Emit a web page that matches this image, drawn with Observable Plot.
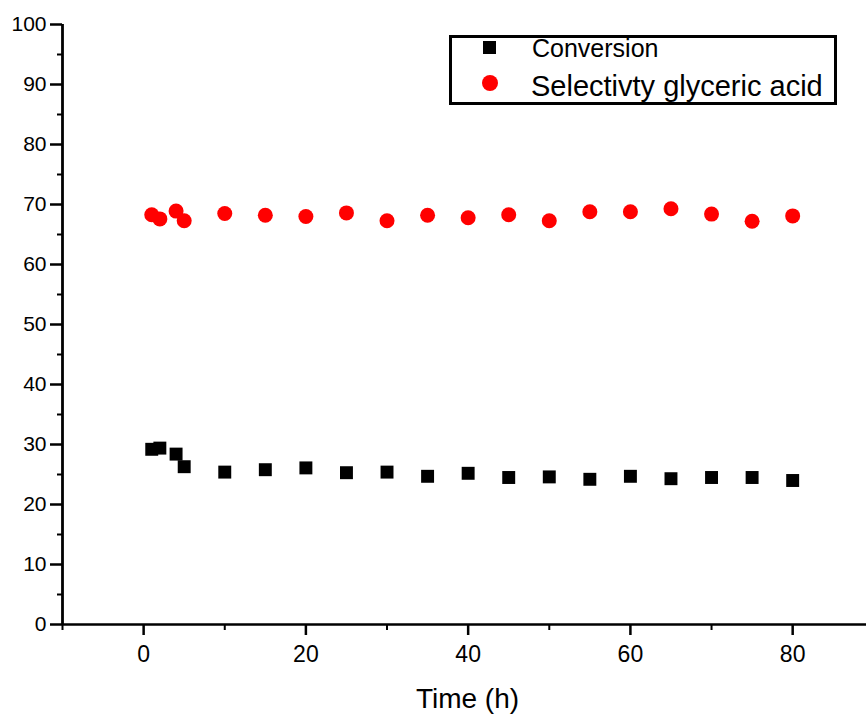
<!DOCTYPE html>
<html>
<head>
<meta charset="utf-8">
<script src="https://cdn.jsdelivr.net/npm/d3@7"></script>
<script src="https://cdn.jsdelivr.net/npm/@observablehq/plot@0.6"></script>
<style>
  html, body { margin: 0; padding: 0; background: #fff; }
  #wrap { position: relative; width: 866px; height: 717px; font-family: "Liberation Sans", Arial, sans-serif; }
  #legendBox { position: absolute; left: 449px; top: 35px; width: 388px; height: 70px; border: 3px solid #000; box-sizing: border-box; background: #fff; }
  .lg { position: absolute; white-space: nowrap; line-height: 1; color: #000; }
</style>
</head>
<body>
<div id="wrap"></div>
<script>
// ---- data ----
const times = [1, 2, 4, 5, 10, 15, 20, 25, 30, 35, 40, 45, 50, 55, 60, 65, 70, 75, 80];
const conversion = [29.2, 29.4, 28.4, 26.3, 25.4, 25.8, 26.1, 25.3, 25.4, 24.7, 25.2, 24.5, 24.6, 24.2, 24.7, 24.3, 24.5, 24.5, 24.0];
const selectivity = [68.3, 67.6, 68.9, 67.3, 68.5, 68.2, 68.0, 68.6, 67.3, 68.2, 67.8, 68.3, 67.3, 68.8, 68.8, 69.3, 68.4, 67.2, 68.1];
const seriesNames = ["Conversion", "Selectivty glyceric acid"];
const xMajorTicks = [0, 20, 40, 60, 80];
const xMinorTicks = [-10, 10, 30, 50, 70];
const yMajorTicks = [0, 10, 20, 30, 40, 50, 60, 70, 80, 90, 100];
const yMinorTicks = [5, 15, 25, 35, 45, 55, 65, 75, 85, 95];
const xLabel = "Time (h)";

const convData = times.map((t, i) => ({t, v: conversion[i]}));
const selData = times.map((t, i) => ({t, v: selectivity[i]}));

const chart = Plot.plot({
  width: 866,
  height: 717,
  marginTop: 24,
  marginBottom: 93,
  marginLeft: 62,
  marginRight: 0,
  style: {fontFamily: "'Liberation Sans', Arial, sans-serif", color: "#000", background: "#fff", overflow: "visible"},
  x: {domain: [-10, 89.1], label: null},
  y: {domain: [0, 100], label: null},
  marks: [
    Plot.axisY(yMinorTicks, {tickSize: 5, text: null, stroke: "#000", strokeWidth: 2, label: null}),
    Plot.axisY(yMajorTicks, {tickSize: 12, tickPadding: 4, fontSize: 21, stroke: "#000", strokeWidth: 2.5, label: null}),
    Plot.axisX(xMinorTicks, {tickSize: 6, text: null, stroke: "#000", strokeWidth: 2, label: null}),
    Plot.axisX(xMajorTicks, {tickSize: 11, tickPadding: 10, fontSize: 23, stroke: "#000", strokeWidth: 2.5, label: null}),
    Plot.ruleX([-10], {stroke: "#000", strokeWidth: 2.8}),
    Plot.ruleY([0], {stroke: "#000", strokeWidth: 2.5}),
    Plot.dot(convData, {x: "t", y: "v", symbol: "square", r: 7.3, fill: "#000", stroke: "none"}),
    Plot.dot(selData, {x: "t", y: "v", symbol: "circle", r: 7.5, fill: "#f00", stroke: "none"}),
    Plot.text([xLabel], {frameAnchor: "bottom", dy: 75, dx: 3, lineAnchor: "middle", fontSize: 28, fill: "#000"})
  ]
});

const wrap = document.getElementById("wrap");
wrap.appendChild(chart);

// legend (HTML overlay)
const box = document.createElement("div");
box.id = "legendBox";
wrap.appendChild(box);

const sq = document.createElement("div");
sq.style.cssText = "position:absolute;left:483px;top:41px;width:13px;height:13px;background:#000;";
wrap.appendChild(sq);

const circ = document.createElement("div");
circ.style.cssText = "position:absolute;left:482px;top:75px;width:16px;height:16px;border-radius:50%;background:#f00;";
wrap.appendChild(circ);

const t1 = document.createElement("span");
t1.className = "lg";
t1.textContent = seriesNames[0];
t1.style.cssText = "left:532px;top:36px;font-size:25px;";
wrap.appendChild(t1);

const t2 = document.createElement("span");
t2.className = "lg";
t2.textContent = seriesNames[1];
t2.style.cssText = "left:531px;top:72px;font-size:29px;";
wrap.appendChild(t2);
</script>
</body>
</html>
